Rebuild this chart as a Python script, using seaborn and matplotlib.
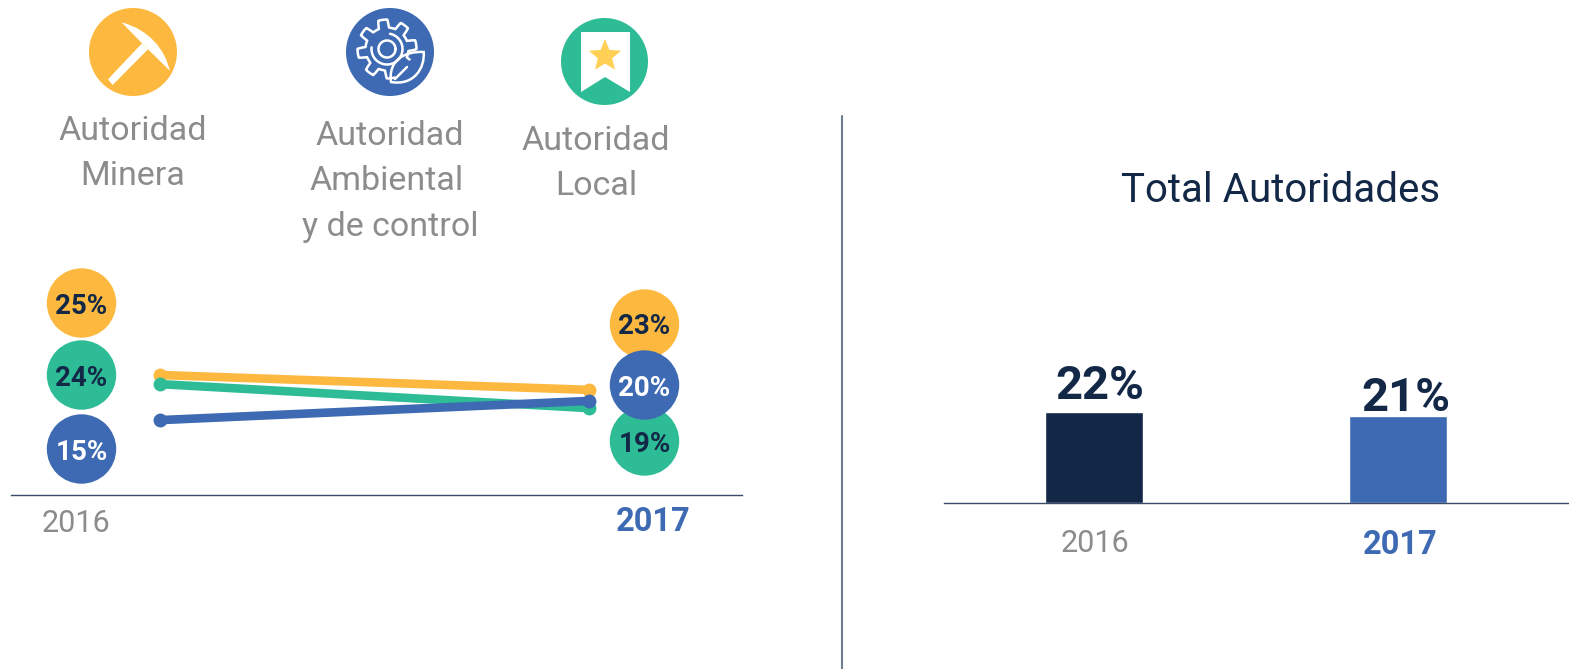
import numpy as np
import pandas as pd
import matplotlib
matplotlib.use("Agg")
import matplotlib.pyplot as plt
from matplotlib.patches import Circle, Polygon, PathPatch
from matplotlib.path import Path
from matplotlib.transforms import ScaledTranslation
import seaborn as sns

# Datos
anios = ["2016", "2017"]
autoridades = ["Minera", "Ambiental", "Local"]
minera_pos = [25.0, 21.9]
ambiental_pos = [23.1, 18.1]
local_pos = [15.6, 19.6]
minera_txt = ["25%", "23%"]
ambiental_txt = ["24%", "19%"]
local_txt = ["15%", "20%"]
total = [22, 21]

AMARILLO = "#FDB93F"
VERDE = "#2EBC96"
AZUL = "#3D6AB2"
NAVY = "#122846"
GRIS = "#8C8C8C"
LINEA = "#3A4A68"

W, H = 1569, 669
sns.set_theme(style="white")
plt.rcParams["font.family"] = ["Roboto", "DejaVu Sans"]

fig = plt.figure(figsize=(W / 100, H / 100), dpi=100)


def px_axes(x0, x1, y_top, y_base):
    return fig.add_axes([x0 / W, 1 - y_base / H, (x1 - x0) / W, (y_base - y_top) / H])


# --- Lineas ---
ax1 = px_axes(10.5, 742, 255, 495)
df = pd.DataFrame({
    "anio": [0, 1] * 3,
    "valor": minera_pos + ambiental_pos + local_pos,
    "autoridad": np.repeat(autoridades, 2),
})
sns.lineplot(data=df, x="anio", y="valor", hue="autoridad", ax=ax1, legend=False,
             palette=[AMARILLO, VERDE, AZUL], hue_order=autoridades, linewidth=6.2,
             marker="o", markersize=10, markeredgewidth=0, errorbar=None)
ax1.set_xlim((10.5 - 160) / 429, (742 - 160) / 429)
ax1.set_ylim(0, 240 / 4.8)
ax1.set_xticks([])
ax1.set_yticks([])
ax1.set_xlabel("")
ax1.set_ylabel("")
sns.despine(ax=ax1, left=True)
ax1.spines["bottom"].set_color(LINEA)
ax1.spines["bottom"].set_linewidth(1.0)

# --- Barras ---
ax2 = px_axes(943.5, W, 300, 503)
sns.barplot(x=anios, y=total, ax=ax2, hue=anios, palette=[NAVY, AZUL], legend=False,
            width=98 / 304, saturation=1)
ax2.set_xlim((943.5 - 1094) / 304, (W - 1094) / 304)
ax2.set_ylim(0, 203 / 4.15)
ax2.set_yticks([])
ax2.set_ylabel("")
ax2.tick_params(axis="x", length=0, pad=19)
desplaza = [1, 2.5]
for lab, c, w, s, d in zip(ax2.get_xticklabels(), [GRIS, AZUL], ["normal", "bold"], [22, 23.5], desplaza):
    lab.set_color(c)
    lab.set_fontweight(w)
    lab.set_fontsize(s)
    lab.set_transform(lab.get_transform() + ScaledTranslation(d / 100, 0, fig.dpi_scale_trans))
sns.despine(ax=ax2, left=True)
ax2.spines["bottom"].set_color(LINEA)
ax2.spines["bottom"].set_linewidth(1.0)
for i, v, dx, y in zip([0, 1], total, [6 / 304, 8 / 304], [386, 398]):
    ax2.text(i + dx, (503 - y) / 4.15, f"{v}%", color=NAVY, fontsize=34, fontweight="bold",
             ha="center", va="center")

# --- Capa de iconos y textos en pixeles ---
top = fig.add_axes([0, 0, 1, 1], facecolor="none")
top.set_xlim(0, W)
top.set_ylim(H, 0)
top.axis("off")

top.plot([841.5, 841.5], [116, H], color="#6E7D92", lw=1.5)


def bubble(x, y, col, txt, tcol):
    top.add_patch(Circle((x, y), 34.7, color=col, lw=0))
    top.text(x, y + 3, txt, color=tcol, fontsize=20, fontweight="bold", ha="center", va="center")


bubble(81.5, 303, AMARILLO, minera_txt[0], NAVY)
bubble(81.5, 375, VERDE, ambiental_txt[0], NAVY)
bubble(81.5, 449, AZUL, local_txt[0], "white")
bubble(644.5, 324, AMARILLO, minera_txt[1], NAVY)
bubble(644.5, 441, VERDE, ambiental_txt[1], NAVY)
bubble(644.5, 385, AZUL, local_txt[1], "white")

# Titulos de autoridad
for x, y, t in [(133, 131, "Autoridad"), (133, 176, "Minera"),
                (390, 136, "Autoridad"), (387, 181, "Ambiental"), (390, 227, "y de control"),
                (596, 141, "Autoridad"), (596, 186, "Local")]:
    top.text(x, y, t, color=GRIS, fontsize=24.5, ha="center", va="center")
top.text(1281, 190, "Total Autoridades", color=NAVY, fontsize=29, ha="center", va="center")
top.text(76, 524, "2016", color=GRIS, fontsize=22, ha="center", va="center")
top.text(653, 522, "2017", color=AZUL, fontsize=23.5, fontweight="bold", ha="center", va="center")

# Icono pico
top.add_patch(Circle((133, 52), 44, color=AMARILLO, lw=0))
top.add_patch(Polygon([(142, 43.3), (108, 79.3), (112.6, 85), (148, 49.3)], color="white", lw=0))
verts = [(121.6, 22.3), (150, 30), (165, 50), (169.8, 70.7), (148, 49.3), (142, 43.3), (121.6, 22.3)]
codes = [Path.MOVETO, Path.CURVE4, Path.CURVE4, Path.CURVE4, Path.LINETO, Path.LINETO, Path.CLOSEPOLY]
top.add_patch(PathPatch(Path(verts, codes), color="white", lw=0))

# Icono engranaje con hoja
top.add_patch(Circle((390, 52), 44, color=AZUL, lw=0))
ang = np.radians(np.linspace(-25, 285, 600))
r = 25.5 + 4 * np.clip(3 * np.sin(8 * ang + 0.4), -1, 1)
top.plot(387 + r * np.cos(ang), 49 - r * np.sin(ang), color="white", lw=1.8)
ang = np.linspace(0, 2 * np.pi, 80)
top.plot(387 + 8.5 * np.cos(ang), 49 + 8.5 * np.sin(ang), color="white", lw=1.8)
ang = np.radians(np.linspace(-10, 255, 80))
top.plot(387 + 15.5 * np.cos(ang - 1.2), 49 + 15.5 * np.sin(ang - 1.2), color="white", lw=1.8)
hoja = [(391, 82), (388, 60), (405, 51), (423.7, 52), (425, 68), (414, 86), (391, 82), (391, 82)]
top.add_patch(PathPatch(Path(hoja, [Path.MOVETO, Path.CURVE4, Path.CURVE4, Path.CURVE4,
                                    Path.CURVE4, Path.CURVE4, Path.CURVE4, Path.CLOSEPOLY]),
                        facecolor=AZUL, edgecolor="white", lw=1.8))
top.plot([395, 407], [79, 67], color="white", lw=1.8, solid_capstyle="round")

# Icono marcador con estrella
top.add_patch(Circle((604.5, 61.5), 43.5, color=VERDE, lw=0))
top.add_patch(Polygon([(581, 32), (630, 32), (630, 92), (605, 77), (581, 92)], color="white", lw=0))
a = np.radians(90 + 36 * np.arange(10))
rr = np.array([17, 7.5] * 5)
top.add_patch(Polygon(np.c_[605 + rr * np.cos(a), 56 - rr * np.sin(a)], color="#FFD054", lw=0))

fig.savefig("out.png", dpi=100)
